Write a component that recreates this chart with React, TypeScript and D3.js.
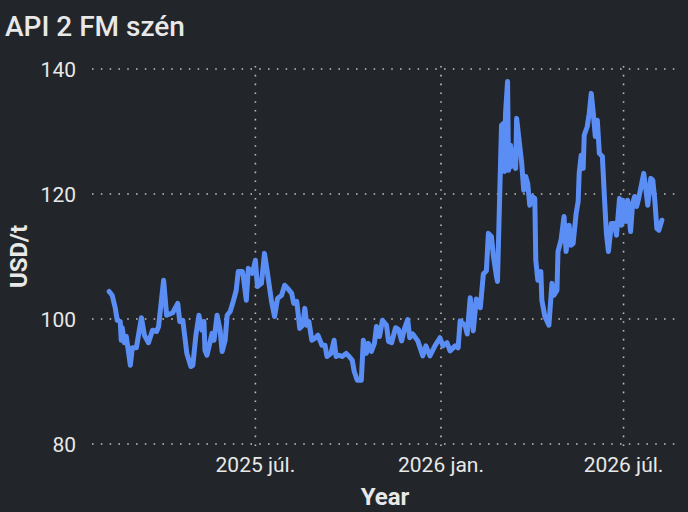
import React, { useEffect, useMemo } from 'react';
import * as d3 from 'd3';

// API 2 FM coal price, USD/t
const dates = [
  '2025-02-06', '2025-02-09', '2025-02-12', '2025-02-14', '2025-02-17', '2025-02-18', '2025-02-19', '2025-02-21',
  '2025-02-23', '2025-02-27', '2025-03-01', '2025-03-05', '2025-03-10', '2025-03-13', '2025-03-17', '2025-03-21',
  '2025-03-25', '2025-03-27', '2025-04-01', '2025-04-04', '2025-04-10', '2025-04-15', '2025-04-17', '2025-04-20',
  '2025-04-22', '2025-04-24', '2025-04-28', '2025-04-30', '2025-05-03', '2025-05-06', '2025-05-09', '2025-05-11',
  '2025-05-12', '2025-05-14', '2025-05-19', '2025-05-21', '2025-05-24', '2025-05-27', '2025-05-29', '2025-06-01',
  '2025-06-03', '2025-06-06', '2025-06-09', '2025-06-12', '2025-06-14', '2025-06-18', '2025-06-19', '2025-06-22',
  '2025-06-24', '2025-06-28', '2025-07-01', '2025-07-03', '2025-07-07', '2025-07-10', '2025-07-13', '2025-07-17',
  '2025-07-20', '2025-07-23', '2025-07-27', '2025-07-30', '2025-08-02', '2025-08-06', '2025-08-08', '2025-08-11',
  '2025-08-14', '2025-08-17', '2025-08-19', '2025-08-21', '2025-08-23', '2025-08-26', '2025-08-29', '2025-09-01',
  '2025-09-05', '2025-09-08', '2025-09-10', '2025-09-14', '2025-09-17', '2025-09-19', '2025-09-22', '2025-09-25',
  '2025-09-29', '2025-10-02', '2025-10-05', '2025-10-07', '2025-10-10', '2025-10-14', '2025-10-16', '2025-10-19',
  '2025-10-21', '2025-10-24', '2025-10-27', '2025-10-29', '2025-11-01', '2025-11-04', '2025-11-08', '2025-11-10',
  '2025-11-13', '2025-11-17', '2025-11-20', '2025-11-23', '2025-11-26', '2025-11-29', '2025-12-01', '2025-12-04',
  '2025-12-09', '2025-12-14', '2025-12-17', '2025-12-21', '2025-12-26', '2025-12-31', '2026-01-03', '2026-01-07',
  '2026-01-10', '2026-01-15', '2026-01-18', '2026-01-20', '2026-01-25', '2026-01-27', '2026-01-30', '2026-02-02',
  '2026-02-05', '2026-02-09', '2026-02-12', '2026-02-15', '2026-02-17', '2026-02-20', '2026-02-22', '2026-02-25',
  '2026-02-26', '2026-03-02', '2026-03-04', '2026-03-05', '2026-03-06', '2026-03-08', '2026-03-09', '2026-03-11',
  '2026-03-12', '2026-03-14', '2026-03-16', '2026-03-17', '2026-03-19', '2026-03-22', '2026-03-24', '2026-03-26',
  '2026-03-28', '2026-03-30', '2026-04-01', '2026-04-04', '2026-04-05', '2026-04-07', '2026-04-10', '2026-04-11',
  '2026-04-14', '2026-04-18', '2026-04-21', '2026-04-23', '2026-04-26', '2026-04-27', '2026-04-30', '2026-05-03',
  '2026-05-05', '2026-05-08', '2026-05-10', '2026-05-12', '2026-05-15', '2026-05-17', '2026-05-18', '2026-05-20',
  '2026-05-22', '2026-05-23', '2026-05-26', '2026-05-28', '2026-05-30', '2026-06-01', '2026-06-03', '2026-06-05',
  '2026-06-07', '2026-06-10', '2026-06-12', '2026-06-14', '2026-06-16', '2026-06-19', '2026-06-22', '2026-06-24',
  '2026-06-27', '2026-06-29', '2026-06-30', '2026-07-03', '2026-07-05', '2026-07-08', '2026-07-10', '2026-07-12',
  '2026-07-14', '2026-07-16', '2026-07-19', '2026-07-21', '2026-07-23', '2026-07-25', '2026-07-28', '2026-07-30',
  '2026-08-01', '2026-08-03', '2026-08-05', '2026-08-08',
];

const values = [
  104.4, 103.8, 101.8, 99.8, 99.6, 96.6, 98.6, 96.2,
  97.2, 92.6, 95.4, 95.4, 100.2, 97.4, 96.2, 98.2,
  98.0, 98.8, 106.2, 100.6, 101.0, 102.5, 99.6, 99.8,
  97.2, 94.5, 92.4, 92.6, 97.4, 100.6, 98.2, 99.6,
  95.0, 94.2, 97.7, 96.6, 100.6, 98.2, 94.8, 96.6,
  100.6, 101.2, 102.8, 104.6, 107.6, 107.6, 106.8, 103.0,
  108.1, 107.3, 109.4, 105.2, 105.7, 110.5, 107.3, 102.8,
  100.4, 103.3, 103.8, 105.4, 104.9, 104.1, 102.5, 102.8,
  98.5, 99.0, 101.7, 99.0, 99.6, 96.6, 96.9, 97.4,
  95.8, 95.8, 94.0, 94.5, 96.6, 94.0, 94.2, 94.0,
  94.5, 94.0, 93.4, 91.6, 90.2, 90.2, 96.6, 94.5,
  96.1, 94.8, 96.1, 98.8, 97.2, 99.8, 99.0, 96.4,
  96.2, 98.6, 98.3, 96.5, 98.6, 99.9, 97.0, 97.6,
  96.5, 94.1, 95.7, 94.1, 95.7, 97.0, 95.7, 96.2,
  94.9, 95.7, 95.4, 99.7, 98.9, 97.6, 103.4, 98.1,
  103.2, 101.8, 107.2, 107.7, 113.7, 113.2, 110.0, 106.8,
  106.0, 131.0, 131.3, 123.6, 132.9, 138.0, 123.8, 127.8,
  124.4, 127.0, 124.1, 132.1, 129.2, 125.0, 120.6, 122.8,
  121.7, 118.2, 119.6, 119.3, 109.4, 106.2, 107.6, 103.0,
  100.4, 99.0, 105.7, 103.8, 104.6, 110.8, 112.6, 116.4,
  110.8, 115.0, 111.8, 112.1, 116.9, 118.8, 123.3, 126.2,
  124.1, 129.4, 130.8, 132.9, 136.1, 132.9, 129.2, 131.8,
  126.5, 126.0, 119.6, 113.7, 110.8, 115.3, 115.3, 113.4,
  119.3, 115.0, 119.0, 115.6, 119.0, 114.0, 118.5, 119.6,
  118.0, 119.3, 121.7, 123.3, 120.9, 118.2, 122.5, 122.2,
  119.0, 114.5, 114.2, 115.8,
];

const yTicks = [80, 100, 120, 140];
const xTickDates = ['2025-07-01', '2026-01-01', '2026-07-01'];
const xTickLabels = ['2025 júl.', '2026 jan.', '2026 júl.'];
const xDomain = ['2025-01-20', '2026-08-22'];

const W = 688;
const H = 512;
const plot = { left: 92, right: 676, top: 69, bottom: 444 };

const BG = '#222529';
const TEXT = '#e8e8e8';
const GRID = '#bdbdbd';
const LINE = '#5b8ef5';
const FONT = 'Roboto, "DejaVu Sans", sans-serif';

const parse = d3.timeParse('%Y-%m-%d');

const App: React.FC = () => {
  useEffect(() => {
    document.body.style.margin = '0';
    document.body.style.background = BG;
  }, []);

  const x = useMemo(
    () => d3.scaleTime().domain(xDomain.map(s => parse(s) as Date)).range([plot.left, plot.right]),
    []
  );
  const y = useMemo(() => d3.scaleLinear().domain([80, 140]).range([plot.bottom, plot.top]), []);

  const data = dates.map((d, i) => ({ date: parse(d) as Date, value: values[i] }));

  const linePath = d3
    .line<{ date: Date; value: number }>()
    .x(d => x(d.date))
    .y(d => y(d.value))(data);

  return (
    <svg width={W} height={H} style={{ display: 'block', background: BG }} fontFamily={FONT}>
      <rect width={W} height={H} fill={BG} />

      {/* title */}
      <text x={5} y={36} fill={TEXT} fontSize={28} fontWeight={500}>
        API 2 FM szén
      </text>

      {/* horizontal grid + y ticks */}
      {yTicks.map(t => (
        <g key={`y-${t}`}>
          <line
            x1={plot.left}
            x2={plot.right}
            y1={y(t)}
            y2={y(t)}
            stroke={GRID}
            strokeWidth={1.6}
            strokeDasharray="1.6 7.2"
          />
          <text x={76} y={y(t) + 7.5} textAnchor="end" fill={TEXT} fontSize={21}>
            {t}
          </text>
        </g>
      ))}

      {/* vertical grid + x ticks */}
      {xTickDates.map((s, i) => {
        const xp = x(parse(s) as Date);
        return (
          <g key={`x-${s}`}>
            <line
              x1={xp}
              x2={xp}
              y1={plot.top - 3}
              y2={plot.bottom + 3}
              stroke={GRID}
              strokeWidth={1.6}
              strokeDasharray="1.6 7.2"
            />
            <text x={xp} y={472} textAnchor="middle" fill={TEXT} fontSize={21}>
              {xTickLabels[i]}
            </text>
          </g>
        );
      })}

      {/* series */}
      <path
        d={linePath || ''}
        fill="none"
        stroke={LINE}
        strokeWidth={5}
        strokeLinejoin="round"
        strokeLinecap="round"
      />

      {/* axis titles */}
      <text
        transform={`translate(27, ${(plot.top + plot.bottom) / 2}) rotate(-90)`}
        textAnchor="middle"
        fill={TEXT}
        fontSize={24}
        fontWeight={700}
      >
        USD/t
      </text>
      <text x={385} y={505} textAnchor="middle" fill={TEXT} fontSize={24} fontWeight={700}>
        Year
      </text>
    </svg>
  );
};

export default App;
